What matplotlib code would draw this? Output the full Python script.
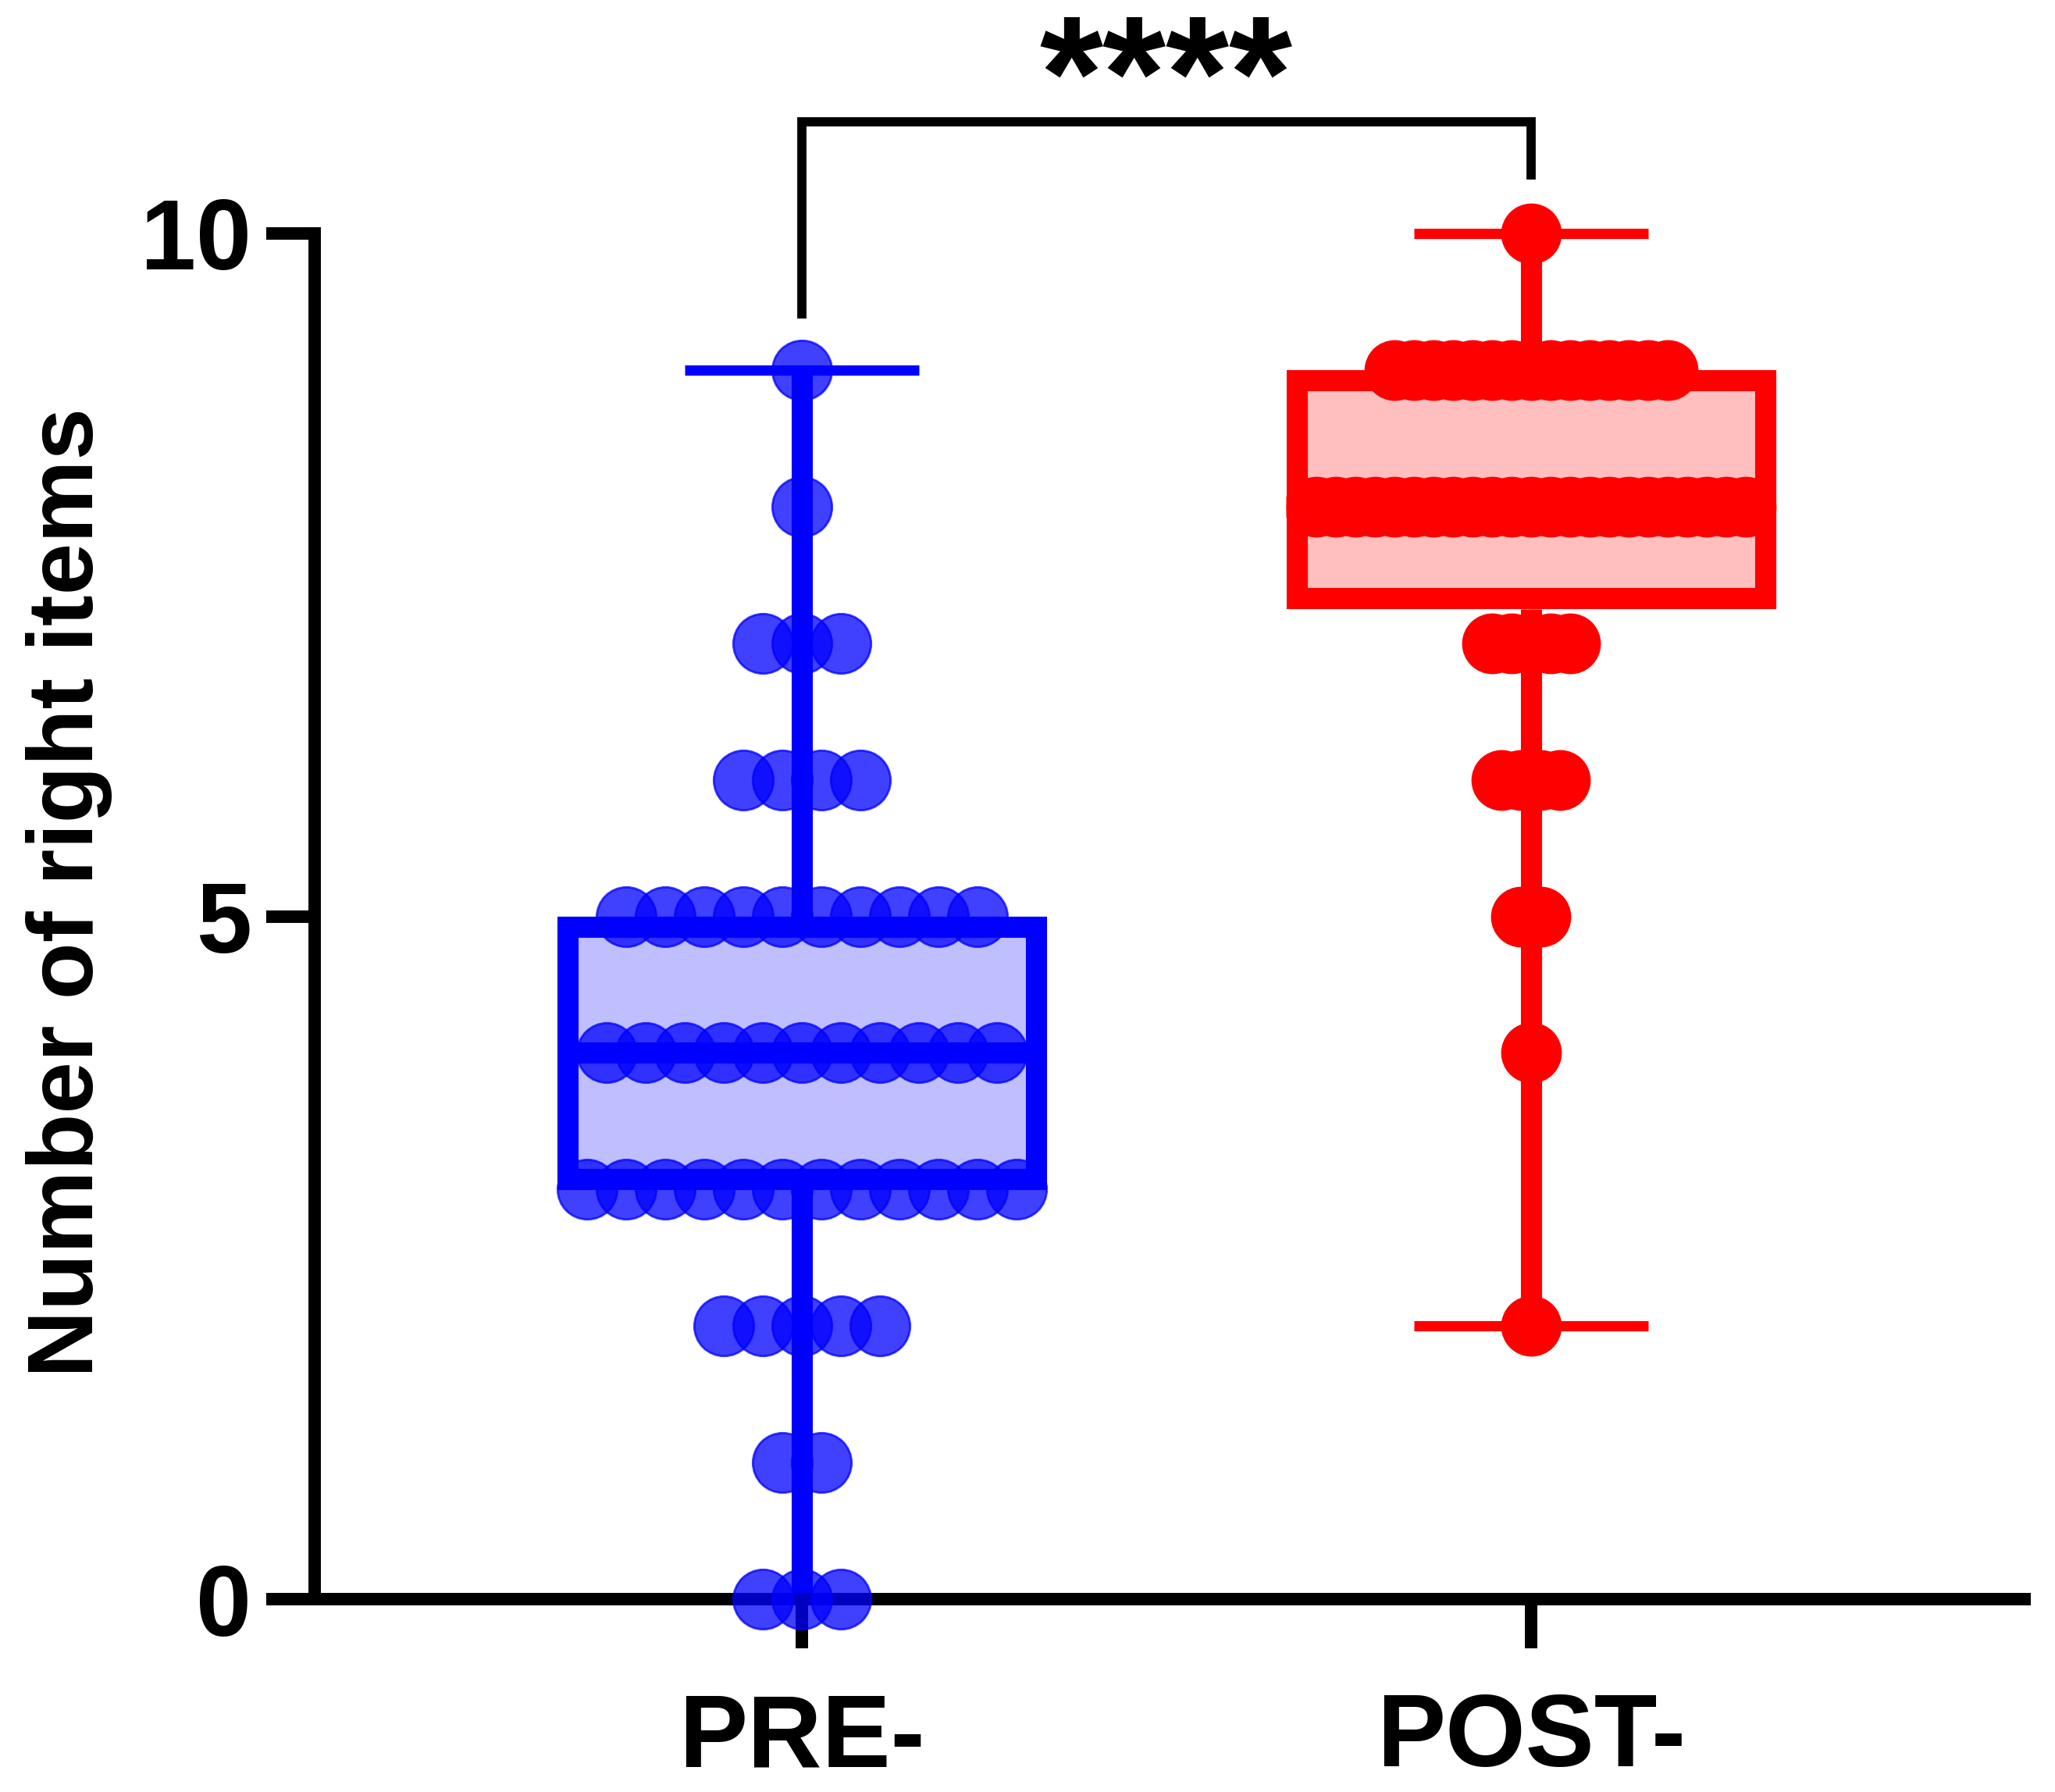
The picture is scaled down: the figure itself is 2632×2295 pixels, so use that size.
import numpy as np
import matplotlib.pyplot as plt

# number of subjects at each score
groups = ['PRE-', 'POST-']
scores = [0, 1, 2, 3, 4, 5, 6, 7, 8, 9, 10]
pre_counts = [3, 2, 5, 12, 11, 10, 4, 3, 1, 1, 0]
post_counts = [0, 0, 1, 0, 1, 2, 4, 5, 23, 15, 1]
signif = '****'

colors = ['#0000FF', '#FF0000']
fills = ['#BFBFFF', '#FFBFBF']

plt.rcParams['font.family'] = ['Liberation Sans', 'DejaVu Sans']
plt.rcParams['font.weight'] = 'bold'

W, H = 2632, 2295
fig = plt.figure(figsize=(W / 100, H / 100), dpi=100)
ax = fig.add_axes([403 / W, 1 - 2048 / H, 2190 / W, 1749 / H])

xlim = (-0.668, 1.677)
ylim = (0, 10)

data = [np.repeat(scores, pre_counts), np.repeat(scores, post_counts)]

# box stats the Prism way: quartiles at (n+1)p, whiskers min to max
stats = []
for d in data:
    q1, med, q3 = np.percentile(d, [25, 50, 75], method='weibull')
    stats.append(dict(med=med, q1=q1, q3=q3, whislo=d.min(), whishi=d.max(), fliers=[]))

lw = 19.5
# half the box line width in data units, so the outline sits inside the box
half_px = lw * 100 / 72 / 2
dx = half_px * (xlim[1] - xlim[0]) / 2190
dy = half_px * (ylim[1] - ylim[0]) / 1749

for i, st in enumerate(stats):
    c = colors[i]
    art = ax.bxp([st], positions=[i], widths=0.671, capwidths=0.321,
                 patch_artist=True, showfliers=False, manage_ticks=False,
                 boxprops=dict(facecolor=fills[i], edgecolor=c, linewidth=lw, joinstyle='miter'),
                 whiskerprops=dict(color=c, linewidth=lw, solid_capstyle='butt'),
                 capprops=dict(color=c, linewidth=9.5, solid_capstyle='butt'),
                 medianprops=dict(color=c, linewidth=lw, solid_capstyle='butt'),
                 zorder=2)
    for box in art['boxes']:
        v = box.get_path().vertices
        v[:, 0] = np.where(v[:, 0] < i, v[:, 0] + dx, v[:, 0] - dx)
        v[:, 1] = np.where(v[:, 1] < st['med'], v[:, 1] + dy, v[:, 1] - dy)
    for key in ['whiskers', 'caps', 'medians', 'boxes']:
        for a in art[key]:
            a.set_clip_on(False)

# dot rows, spread so the widest row of each group fills the same width
row_width = 0.589
for i, counts in enumerate([pre_counts, post_counts]):
    step = row_width / (max(counts) - 1)
    xs, ys = [], []
    for s, n in zip(scores, counts):
        offs = (np.arange(n) - (n - 1) / 2) * step
        xs.extend(i + offs)
        ys.extend([s] * n)
    if i == 0:
        ax.scatter(xs, ys, s=55 ** 2, color=colors[i], alpha=0.75,
                   edgecolor=colors[i], linewidth=2, zorder=3, clip_on=False)
    else:
        ax.scatter(xs, ys, s=56 ** 2, color=colors[i], linewidth=0,
                   zorder=3, clip_on=False)

# significance bracket
ax.plot([0, 0, 1, 1], [9.41, 10.82, 10.82, 10.43], color='black', lw=8.5,
        solid_joinstyle='miter', clip_on=False)
ax.text(0.5, 10.77, signif, ha='center', va='baseline', fontsize=150,
        fontweight='bold')

ax.set_xlim(*xlim)
ax.set_ylim(*ylim)
ax.set_yticks([0, 5, 10])
ax.set_xticks([0, 1])
ax.set_xticklabels(groups)

for side in ['top', 'right']:
    ax.spines[side].set_visible(False)
for side in ['left', 'bottom']:
    ax.spines[side].set_linewidth(11.5)
    ax.spines[side].set_capstyle('projecting')

ax.tick_params(axis='both', length=45, width=11.5, labelsize=92)
ax.tick_params(axis='x', labelsize=95)
ax.tick_params(axis='y', pad=13)
ax.tick_params(axis='x', pad=40)

fig.text(89 / W, 1 - 1143 / H, 'Number of right items', rotation=90,
         ha='center', va='center', fontsize=86, fontweight='bold')

fig.savefig('out.png', dpi=100)
